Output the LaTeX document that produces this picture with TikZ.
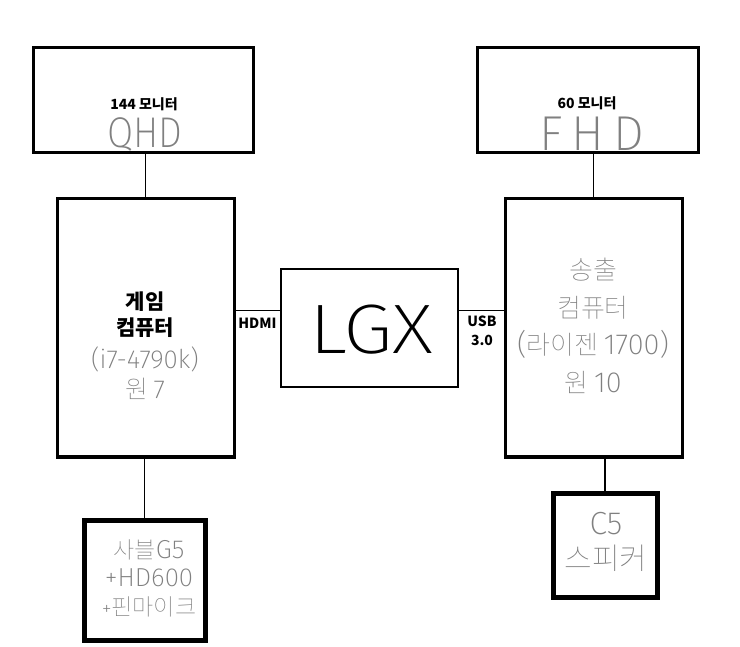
\documentclass[tikz,border=0pt]{standalone}
\usepackage{fontspec}
\usepackage{graphicx}
\setmainfont{Noto Sans CJK KR}
\IfFontExistsTF{Fira Sans ExtraLight}{\newfontfamily\thinf{Fira Sans ExtraLight}}{%
 \IfFontExistsTF{Fira Sans Light}{\newfontfamily\thinf{Fira Sans Light}}{%
  \IfFontExistsTF{DejaVuSans-ExtraLight.ttf}{\newfontfamily\thinf{DejaVuSans-ExtraLight.ttf}}{%
   \IfFontExistsTF{Lato Light}{\newfontfamily\thinf{Lato Light}}{%
    \newfontfamily\thinf{Noto Sans CJK KR}}}}}
\IfFontExistsTF{Noto Sans CJK KR Thin}{\newfontfamily\kthin{Noto Sans CJK KR Thin}}{%
 \IfFontExistsTF{Noto Sans CJK KR Light}{\newfontfamily\kthin{Noto Sans CJK KR Light}}{%
  \IfFontExistsTF{Noto Sans CJK KR DemiLight}{\newfontfamily\kthin{Noto Sans CJK KR DemiLight}}{%
   \newfontfamily\kthin{Noto Sans CJK KR}}}}
\definecolor{thin}{HTML}{808080}
\definecolor{thinK}{HTML}{7E7E7E}
\newcommand{\lt}[2][26]{{\color{thin}\thinf\fontsize{#1}{10}\selectfont #2}}
\begin{document}
\begin{tikzpicture}[x=1pt,y=-1pt,
  box/.style={draw=black,rectangle,inner sep=0pt},
  conn/.style={draw=black,line width=1pt},
  lbl/.style={inner sep=0pt,anchor=center,font=\bfseries\fontsize{14}{16}\selectfont},
  grey/.style={inner sep=0pt,anchor=center,text=thinK},
]
\useasboundingbox (0,0) rectangle (740,647);
\fill[white] (0,0) rectangle (740,647);
% boxes
\node[box,line width=3pt,minimum width=220pt,minimum height=105pt] (mon1) at (143,100.5) {};
\node[box,line width=3pt,minimum width=221pt,minimum height=105pt] (mon2) at (587.5,100.5) {};
\node[box,line width=3pt,minimum width=177pt,minimum height=258pt] (pc1) at (145.5,328) {};
\node[box,line width=2.5pt,minimum width=177pt,minimum height=118pt] (lgx) at (369.5,328) {};
\node[box,line width=3pt,minimum width=177pt,minimum height=258pt] (pc2) at (593.5,328) {};
\node[box,line width=5pt,minimum width=121pt,minimum height=120pt] (aud1) at (144.5,580) {};
\node[box,line width=5pt,minimum width=104pt,minimum height=104pt] (aud2) at (605,545) {};
% connectors
\draw[conn] (pc1.north) -- (pc1.north |- mon1.south);
\draw[conn] (pc2.north) -- (pc2.north |- mon2.south);
\draw[conn] ([yshift=17pt]pc1.east) -- ([yshift=17pt]lgx.west);
\draw[conn] ([yshift=17pt]lgx.east) -- ([yshift=17pt]pc2.west);
\draw[conn,line width=1.2pt] (aud1.north) -- (aud1.north |- pc1.south);
\draw[conn,line width=2pt] (aud2.north) -- (aud2.north |- pc2.south);
% monitor texts
\node[lbl] (t1) at (144,104) {144 모니터};
\node[grey,text=thin,font=\thinf\fontsize{43}{43}\selectfont] (t2) at (145,134) {\scalebox{0.88}[1]{QHD}};
\node[lbl] (t3) at (587,103) {60 모니터};
\node[grey,text=thin,font=\thinf\fontsize{49}{49}\selectfont] (t4) at (592,134) {F\hspace{9pt}H\hspace{9pt}D};
% left computer
\node[inner sep=0pt,align=center,font=\bfseries\fontsize{21}{26}\selectfont] (t5) at (145,315) {게임\\컴퓨터};
\node[grey,font=\kthin\fontsize{25}{30}\selectfont,align=center] (t6) at (145,373) {\lt[26]{(i7-4790k)}\\원 \lt[26]{7}};
% LGX
\node[inner sep=0pt,font=\thinf\fontsize{70}{70}\selectfont] (t7) at (371,330) {\scalebox{1.15}[1]{LGX}};
\node[lbl] (t8) at (257.5,323) {HDMI};
\node[lbl,align=center,font=\bfseries\fontsize{14}{19}\selectfont] (t9) at (482,331) {USB\\3.0};
% right computer
\node[grey,align=center,font=\kthin\fontsize{26}{37.5}\selectfont] (t10) at (593,326) {송출\\컴퓨터\\\lt[29]{(}라이젠 \lt[29]{1700)}\\원 \lt[29]{10}};
% audio
\node[grey,align=center,font=\kthin\fontsize{23}{28.5}\selectfont] (t11) at (149,578) {사블\lt[26]{G5}\\\lt[26]{+HD600}\\\lt[20]{+}핀마이크};
\node[grey,align=center,font=\kthin\fontsize{30}{35}\selectfont] (t12) at (606,542) {\lt[32]{C5}\\스피커};
\end{tikzpicture}
\end{document}
